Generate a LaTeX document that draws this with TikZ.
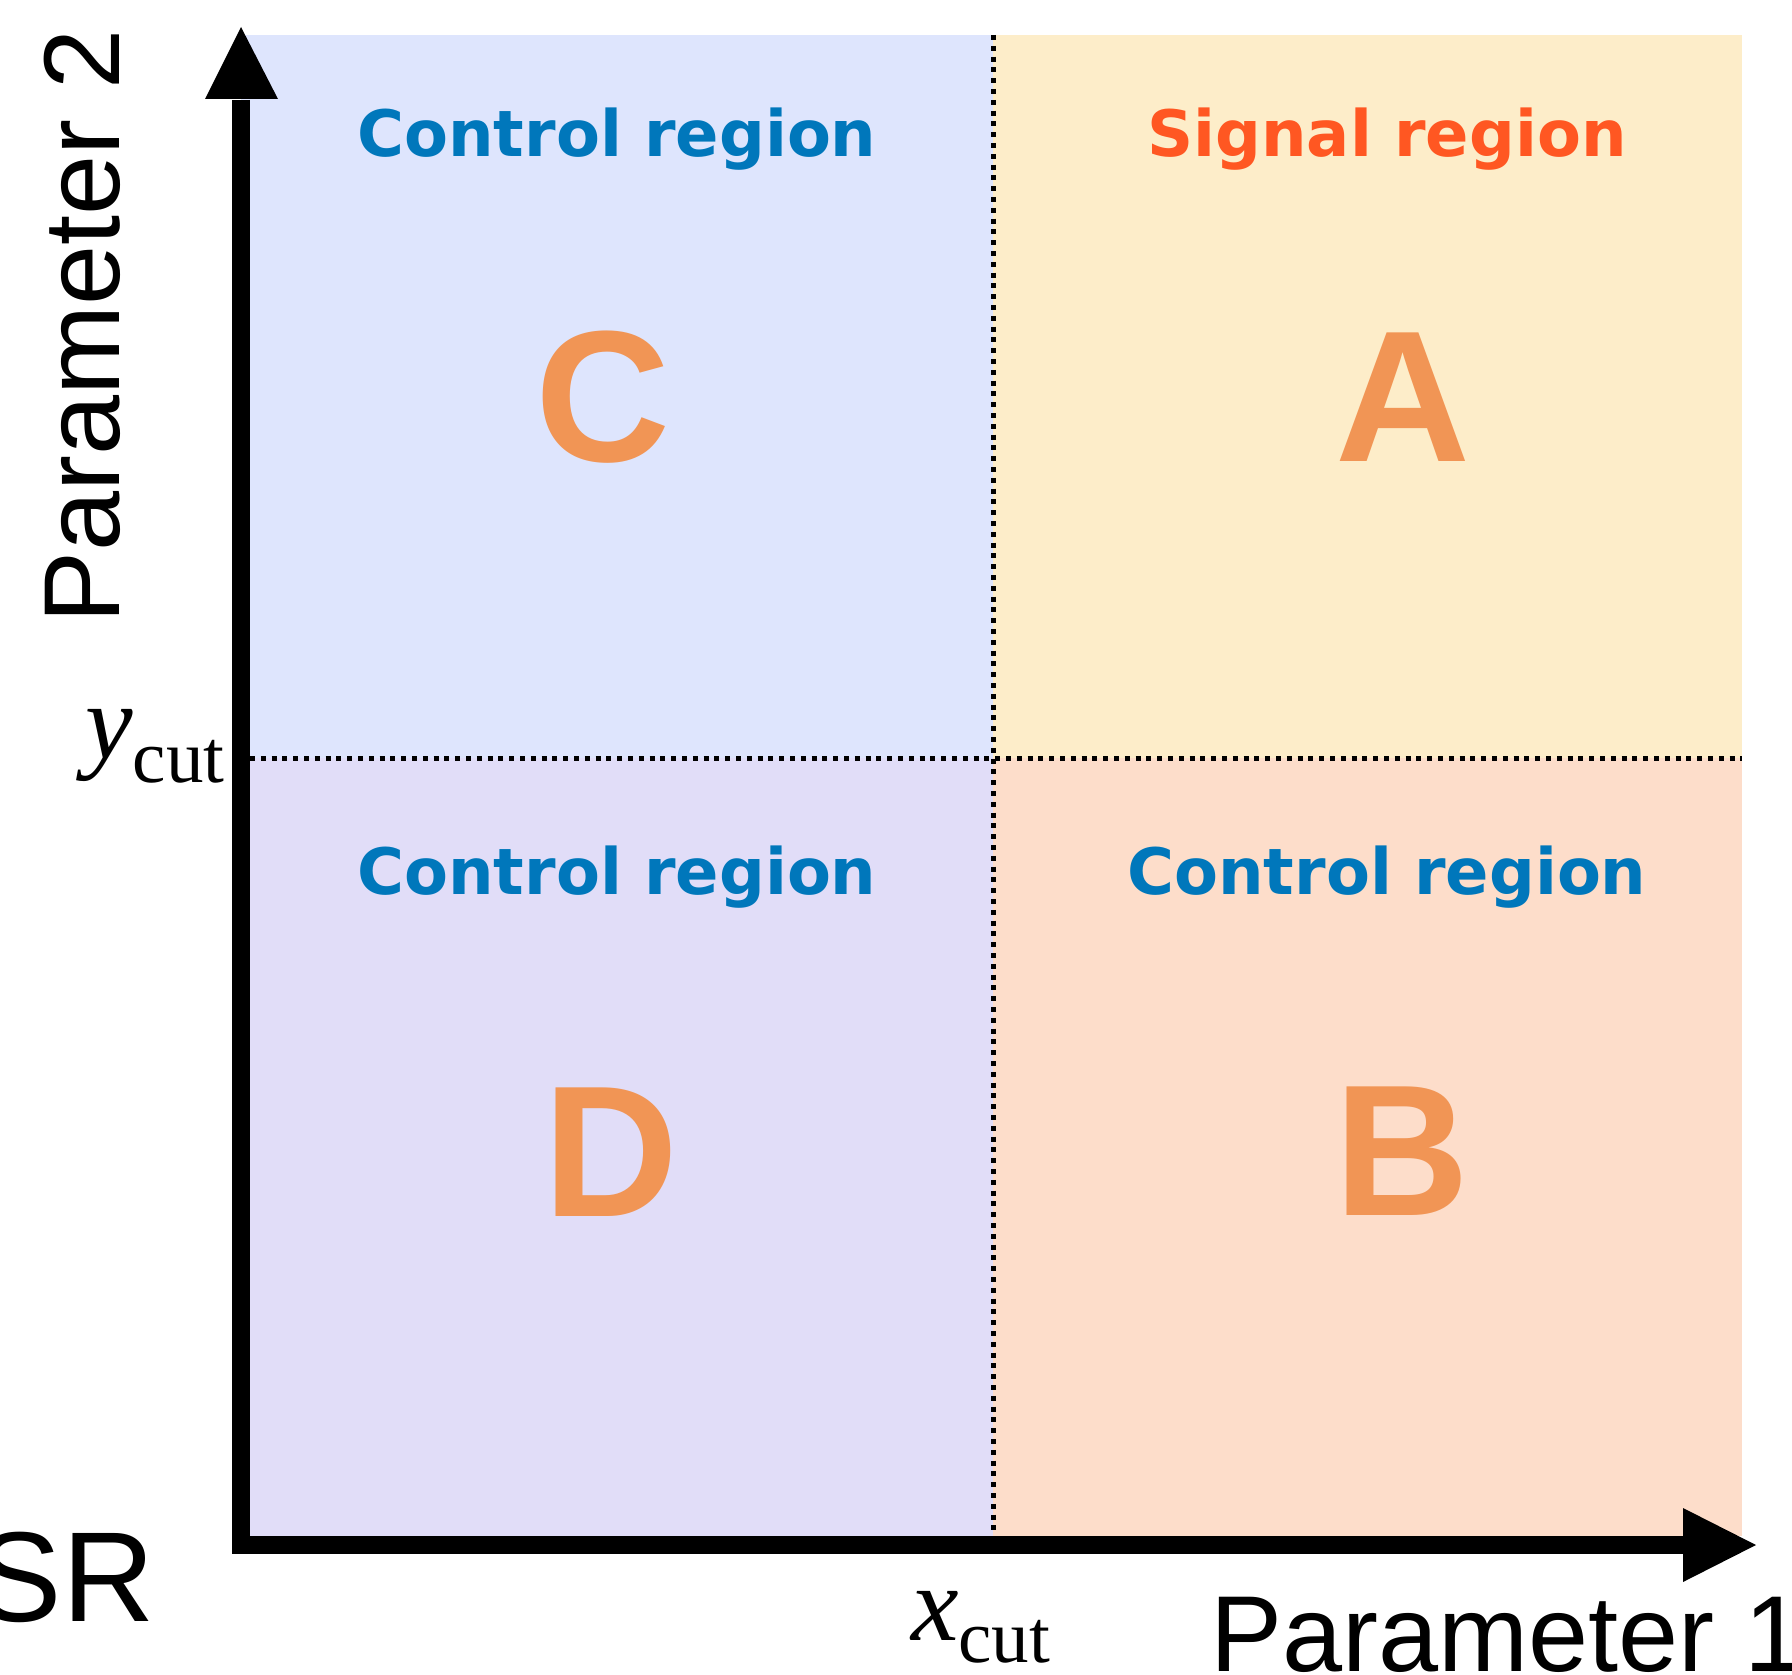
\documentclass[tikz,border=0pt]{standalone}
\usepackage{fontspec}
\newfontfamily\axisfont{Liberation Sans}
\newfontfamily\regfont{DejaVu Sans}
\newfontfamily\cutfont{Liberation Serif}
\definecolor{fillC}{RGB}{222,229,253}
\definecolor{fillA}{RGB}{253,237,201}
\definecolor{fillD}{RGB}{225,221,248}
\definecolor{fillB}{RGB}{253,221,202}
\definecolor{ctrlblue}{RGB}{0,119,187}
\definecolor{sigred}{RGB}{255,87,34}
\definecolor{letterorange}{RGB}{241,149,85}
\begin{document}
\begin{tikzpicture}[x=1pt,y=-1pt,
  dotline/.style={line width=5pt, dash pattern=on 5pt off 5.8pt, black},
  regtext/.style={inner sep=0pt, anchor=base, font=\regfont\bfseries\fontsize{64}{70}\selectfont},
  bigletter/.style={inner sep=0pt, anchor=center, text=letterorange, font=\axisfont\bfseries\fontsize{187}{200}\selectfont},
  axislabel/.style={inner sep=0pt, font=\axisfont\fontsize{108}{118}\selectfont},
  cutlabel/.style={inner sep=0pt, anchor=base west, font=\cutfont\fontsize{107}{115}\selectfont}]
\useasboundingbox (0,0) rectangle (1792,1675);
% regions
\fill[fillC] (241,35) rectangle (993,758);
\fill[fillA] (993,35) rectangle (1742,758);
\fill[fillD] (241,758) rectangle (993,1536);
\fill[fillB] (993,758) rectangle (1742,1536);
% cuts
\coordinate (xtop) at (993,35);
\coordinate (xbot) at (993,1536);
\coordinate (yleft) at (250,758);
\coordinate (yright) at (1742,758);
\draw[dotline] (xtop) -- (xbot);
\draw[dotline] (yleft) -- (yright);
% axes
\coordinate (origin) at (241,1545);
\coordinate (ytip) at (241,27);
\coordinate (xtip) at (1756,1545);
\draw[line width=18pt, line join=miter] (241,100) -- (origin) -- (1684,1545);
\fill (205,99) -- (278,99) -- (ytip) -- cycle;
\fill (1683,1508) -- (1683,1582) -- (xtip) -- cycle;
% region titles
\node[regtext, text=ctrlblue] (tC) at (617,157) {Control region};
\node[regtext, text=sigred] (tA) at (1387,157) {Signal region};
\node[regtext, text=ctrlblue] (tD) at (617,894) {Control region};
\node[regtext, text=ctrlblue] (tB) at (1387,894) {Control region};
% letters
\node[bigletter] (C) at (603,397) {C};
\node[bigletter] (A) at (1403,397) {A};
\node[bigletter] (D) at (611,1152) {D};
\node[bigletter] (B) at (1402,1151) {B};
% axis labels
\node[axislabel, anchor=base west, rotate=90] (p2) at (119,624) {Parameter 2};
\node[axislabel, anchor=base west] (p1) at (1210,1671) {Parameter 1};
\node[inner sep=0pt, anchor=base east, font=\axisfont\fontsize{128}{135}\selectfont] (sr) at (155,1621) {SR};
% cut labels
\node[cutlabel] (ycut) at (85,758) {\textit{y}\raisebox{-24pt}{\fontsize{75}{80}\selectfont cut}};
\node[cutlabel] (xcut) at (911,1640) {\textit{x}\raisebox{-22pt}{\fontsize{75}{80}\selectfont cut}};
\end{tikzpicture}
\end{document}
